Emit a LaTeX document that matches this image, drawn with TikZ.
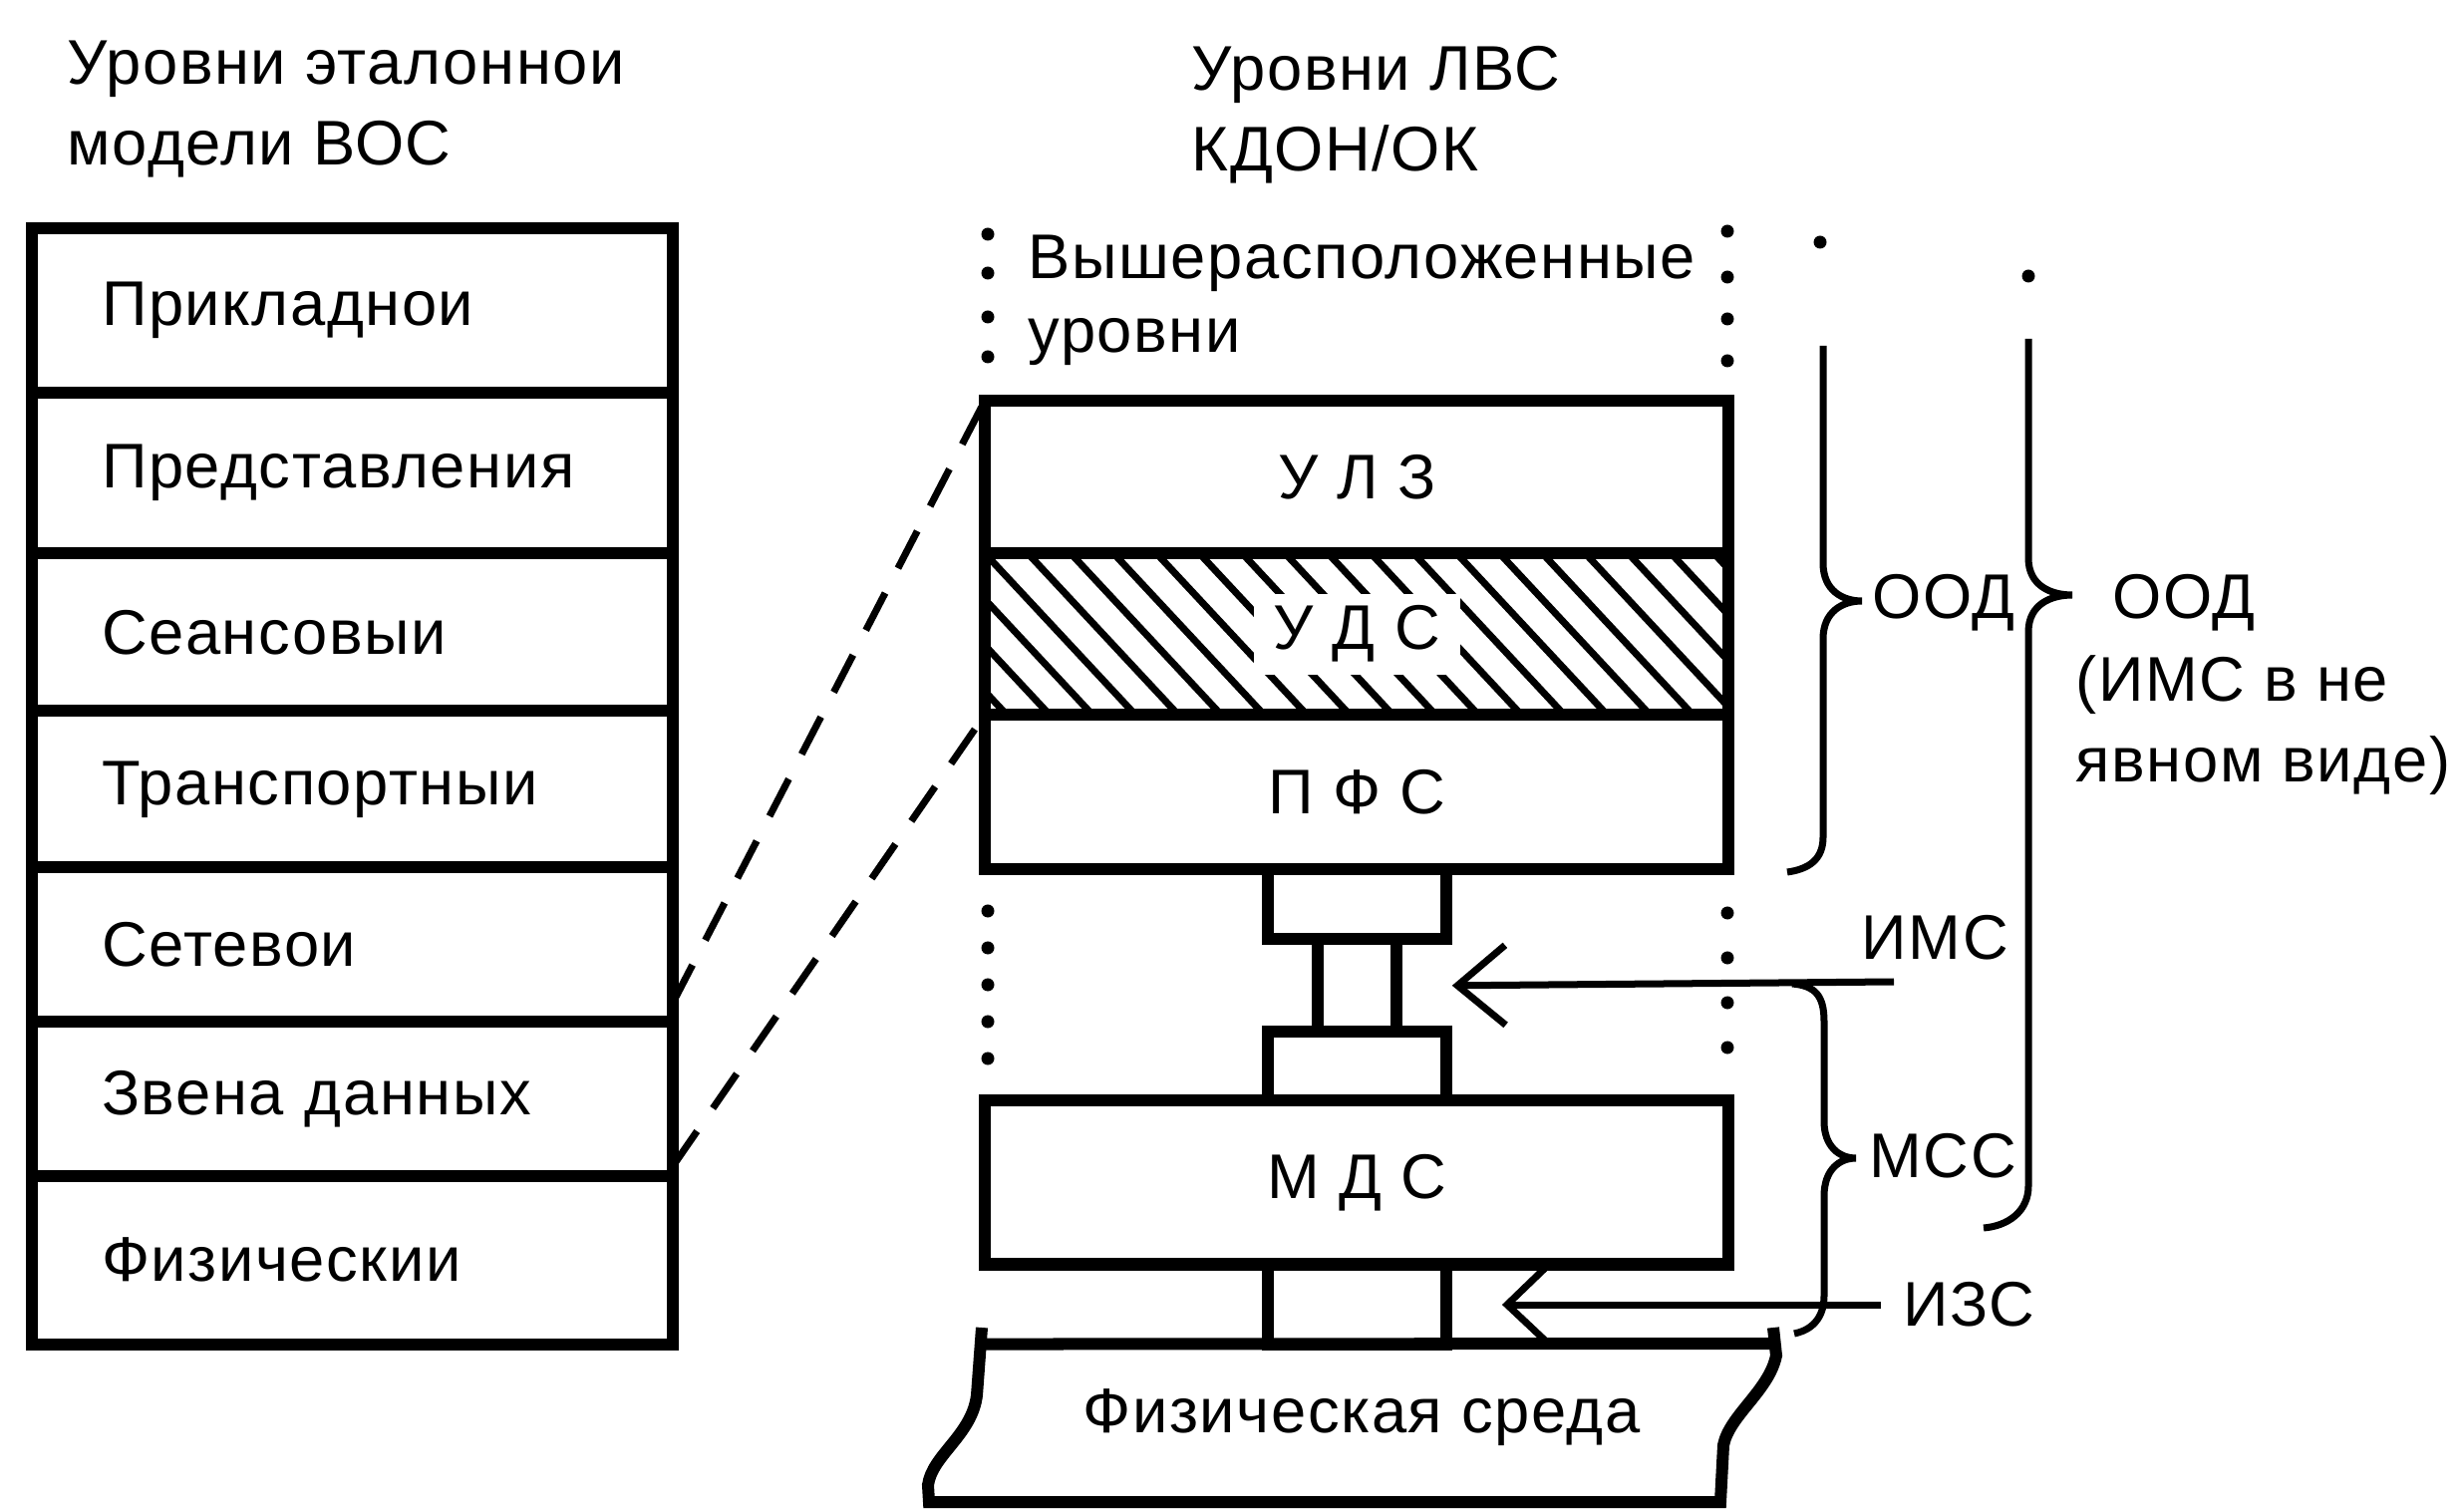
\documentclass[tikz,border=0pt]{standalone}
\usepackage{fontspec}
\setmainfont{Liberation Sans}[LetterSpace=2.5]
\usetikzlibrary{arrows.meta,positioning}
\tikzset{
  thick-line/.style={line width=1.2mm},
  thin-line/.style={line width=0.7mm},
  hatch-line/.style={line width=0.7mm},
  osi-layer/.style={
    draw,
    thick-line,
    outer sep=0pt,
    inner xsep=0.7cm,
    text width=5.03cm,
    align=left
  },
  lan-layer/.style={
    draw,
    thick-line,
    outer sep=0pt,
    minimum width=7.46cm,
    inner sep=0pt
  },
  link-box/.style={
    draw,
    thick-line,
    outer sep=0pt,
    inner sep=0pt
  },
  map-line/.style={
    thin-line,
    dash pattern=on 0.42cm off 0.28cm
  },
  caption/.style={anchor=north west, align=left, inner sep=0pt}
}

\begin{document}
\begin{tikzpicture}[x=0.01cm, y=-0.01cm, font=\fontsize{18}{23}\selectfont]
  \useasboundingbox (0,0) rectangle (2472,1516);
  % titles
  \node[caption] (osi-title) at (67,40) {Уровни эталоннои\\модели ВОС};
  \node[caption] (lan-title) at (1195,46) {Уровни ЛВС\\КДОН/ОК};
  % OSI reference model
  \node[osi-layer, minimum height=1.65cm, anchor=north west] (prk) at (32,229) {Прикладнои};
  \node[osi-layer, minimum height=1.61cm, below=0pt of prk] (prd) {Представления};
  \node[osi-layer, minimum height=1.58cm, below=0pt of prd] (sns) {Сеансовыи};
  \node[osi-layer, minimum height=1.57cm, below=0pt of sns] (trn) {Транспортныи};
  \node[osi-layer, minimum height=1.55cm, below=0pt of trn] (set) {Сетевои};
  \node[osi-layer, minimum height=1.54cm, below=0pt of set] (zvn) {Звена данных};
  \node[osi-layer, minimum height=1.69cm, below=0pt of zvn] (fiz) {Физическии};
  % LAN levels
  \node[caption, font=\fontsize{18}{21}\selectfont] (upper) at (1031,235) {Вышерасположенные\\уровни};
  \node[lan-layer, minimum height=1.53cm, anchor=north west] (ulz) at (988,402) {У Л З};
  \node[lan-layer, minimum height=1.62cm, below=0pt of ulz, path picture={
      \foreach \i in {-5,...,17}
        \draw[hatch-line] ([xshift=\i*0.43cm]path picture bounding box.north west) -- ++(151,162);
    }] (uds) {};
  \node[fill=white, inner xsep=0.2cm, inner ysep=0.12cm] (uds-text) at (uds) {У Д С};
  \node[lan-layer, minimum height=1.55cm, below=0pt of uds] (pfs) {П Ф С};
  \node[link-box, minimum width=1.79cm, minimum height=0.70cm, below=0pt of pfs] (ims-top) {};
  \node[link-box, minimum width=0.79cm, minimum height=0.93cm, below=0pt of ims-top] (ims-mid) {};
  \node[link-box, minimum width=1.79cm, minimum height=0.69cm, below=0pt of ims-mid] (ims-bot) {};
  \node[lan-layer, minimum height=1.64cm, below=0pt of ims-bot] (mds) {М Д С};
  \node[link-box, minimum width=1.79cm, minimum height=0.80cm, below=0pt of mds] (izs-link) {};
  % physical medium
  \draw[thick-line] (985,1332) -- (980,1400) .. controls (975,1440) and (935,1460) .. (931,1490)
    -- (932,1507) -- (1726,1507) -- (1729,1450) .. controls (1735,1420) and (1775,1395) .. (1782,1360)
    -- (1779,1332);
  \draw[thick-line] (izs-link.south -| ulz.west) -- (1780,1348);
  \node (sreda) at (1366,1422) {Физическая среда};
  % dotted edges
  \foreach \y in {235,274,318,358} \fill (991,\y) circle (0.065cm);
  \foreach \y in {232,278,320,362} \fill (1733,\y) circle (0.065cm);
  \foreach \y in {914,951,988,1025,1062} \fill (991,\y) circle (0.065cm);
  \foreach \y in {916,961,1006,1051} \fill (1733,\y) circle (0.065cm);
  % mapping to OSI
  \draw[map-line] ([yshift=0.2cm]zvn.north east) -- (ulz.north west);
  \draw[map-line] ([yshift=0.1cm]zvn.south east) -- (pfs.north west);
  % interfaces
  \coordinate (ims-start) at (1900,985);
  \coordinate (ims-tip) at ([xshift=0.56cm]ims-mid.east);
  \draw[thin-line, -{Straight Barb[length=0.48cm,width=0.8cm]}] (ims-start) -- (ims-tip);
  \node[anchor=base west, inner sep=0pt] (ims) at (1867,962) {ИМС};
  \coordinate (izs-start) at (1887,1309);
  \coordinate (izs-tip) at (1512,1309);
  \draw[thin-line] (izs-start) -- (izs-tip);
  \draw[thin-line] (mds.south -| 1554,0) -- (izs-tip) -- (izs-link.south -| 1554,0);
  \node[right=0.1cm of izs-start] (izs) {ИЗС};
  % braces
  \fill (1826,243) circle (0.065cm);
  \draw[thin-line] (1829,347) -- (1829,565) .. controls (1829,592) and (1848,603) .. (1868,603)
    .. controls (1848,603) and (1829,614) .. (1829,641) -- (1829,840)
    .. controls (1829,862) and (1815,872) .. (1793,875);
  \node[anchor=west, inner sep=0pt] (ood-in) at (1878,605) {ООД};
  \fill (2035,277) circle (0.065cm);
  \draw[thin-line] (2035,340) -- (2035,560) .. controls (2035,588) and (2058,597) .. (2079,597)
    .. controls (2058,597) and (2035,606) .. (2035,634) -- (2035,1190)
    .. controls (2035,1215) and (2015,1230) .. (1990,1232);
  \node[anchor=west, inner sep=0pt] (ood-out) at (2119,605) {ООД};
  \node[caption] (ood-note) at (2082,657) {(ИМС в не\\явном виде)};
  \draw[thin-line] (1798,987) .. controls (1822,989) and (1830,1000) .. (1830,1025) -- (1830,1125)
    .. controls (1830,1150) and (1845,1162) .. (1862,1162)
    .. controls (1845,1162) and (1830,1174) .. (1830,1200) -- (1830,1300)
    .. controls (1830,1320) and (1820,1334) .. (1800,1338);
  \node[anchor=west, inner sep=0pt] (mss) at (1875,1160) {МСС};
\end{tikzpicture}
\end{document}
